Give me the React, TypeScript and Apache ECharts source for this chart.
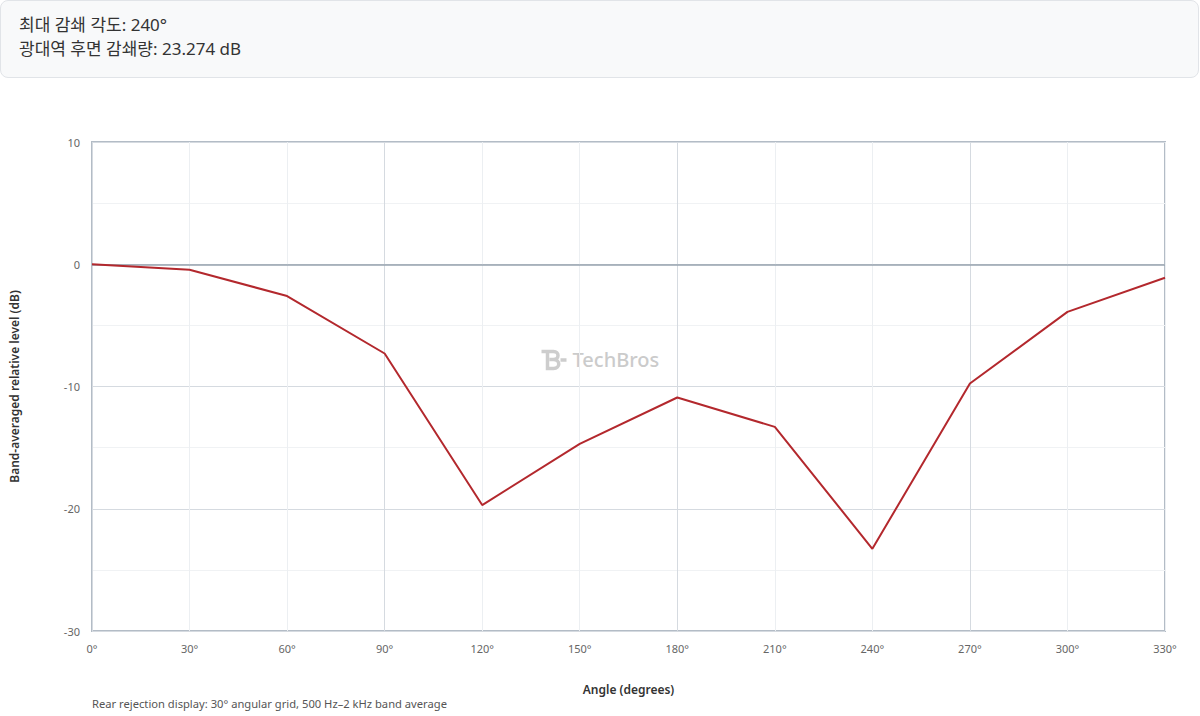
import React, { useEffect, useRef } from "react";
import * as echarts from "echarts";

const angles = [0, 30, 60, 90, 120, 150, 180, 210, 240, 270, 300, 330];
const levels = [0, -0.45, -2.6, -7.3, -19.7, -14.7, -10.9, -13.3, -23.274, -9.75, -3.9, -1.1];
const headerLines = ["최대 감쇄 각도: 240°", "광대역 후면 감쇄량: 23.274 dB"];
const footnote = "Rear rejection display: 30° angular grid, 500 Hz–2 kHz band average";
const watermark = "TechBros";

const FONT = "'Segoe UI', 'Noto Sans', 'Noto Sans CJK KR', sans-serif";

echarts.graphic.registerShape(
  "tbLogo",
  echarts.graphic.extendPath(
    "M0 2 H12 C18 2 18 10 12 10 C19 10 19 19 12 19 H6 V2 M8 10 H12 M19 10.5 H25",
    {}
  )
);

export default function App() {
  const ref = useRef<HTMLDivElement>(null);

  useEffect(() => {
    document.body.style.margin = "0";
    if (!ref.current) return;
    const chart = echarts.init(ref.current, undefined, { renderer: "svg" });
    const major = "#d5dae0";
    const minor = "#eceff2";
    chart.setOption({
      animation: false,
      textStyle: { fontFamily: FONT },
      grid: {
        left: 92,
        right: 35,
        top: 64,
        bottom: 85,
        show: true,
        borderColor: "#b3bcc6",
        borderWidth: 2,
        backgroundColor: "transparent",
      },
      xAxis: {
        type: "value",
        min: 0,
        max: 330,
        interval: 30,
        name: "Angle (degrees)",
        nameLocation: "middle",
        nameGap: 52,
        nameTextStyle: { color: "#333", fontSize: 12, fontWeight: 600, fontFamily: FONT },
        axisLine: { show: false },
        axisTick: { show: false },
        axisLabel: { color: "#666", fontSize: 11, margin: 12, formatter: (v: number) => `${v}°` },
        splitLine: { show: true, lineStyle: { color: [major, minor, minor], width: 1 } },
      },
      yAxis: {
        type: "value",
        min: -30,
        max: 10,
        interval: 10,
        name: "Band-averaged relative level (dB)",
        nameLocation: "middle",
        nameGap: 72,
        nameTextStyle: { color: "#333", fontSize: 12, fontWeight: 600, fontFamily: FONT },
        axisLine: { show: false },
        axisTick: { show: false },
        axisLabel: { color: "#666", fontSize: 11, margin: 12 },
        splitLine: { show: true, lineStyle: { color: major, width: 1 } },
        minorTick: { show: false, splitNumber: 2 },
        minorSplitLine: { show: true, lineStyle: { color: "#f0f2f4", width: 1 } },
      },
      graphic: [
        {
          type: "group",
          left: 539,
          top: 271,
          children: [
            {
              type: "tbLogo",
              x: 0,
              y: 0,
              scaleX: 1,
              scaleY: 1,
              style: { fill: "none", stroke: "#cdcdcd", lineWidth: 3.5 },
            },
            {
              type: "text",
              x: 31,
              y: 0,
              style: {
                text: watermark,
                fill: "#cbcbcb",
                font: `500 20px ${FONT}`,
              },
            },
          ],
        },
        {
          type: "text",
          left: 92,
          top: 620,
          style: { text: footnote, fill: "#555", font: `11.2px ${FONT}` },
        },
      ],
      series: [
        {
          type: "line",
          data: angles.map((a, i) => [a, levels[i]]),
          showSymbol: false,
          symbol: "none",
          lineStyle: { color: "#b3282d", width: 2 },
          z: 5,
          markLine: {
            silent: true,
            symbol: "none",
            label: { show: false },
            lineStyle: { color: "#97a3af", width: 1.5, type: "solid" },
            data: [{ yAxis: 0 }],
            z: 3,
          },
        },
      ],
    });
    return () => chart.dispose();
  }, []);

  return (
    <div style={{ position: "absolute", left: 0, top: 0, width: 1200, height: 716, background: "#fff" }}>
      <div
        style={{
          boxSizing: "border-box",
          width: 1199,
          height: 78,
          padding: "12px 18px",
          background: "#f8f9fa",
          border: "1px solid #e1e4e8",
          borderRadius: 8,
          fontFamily: FONT,
          fontSize: 17,
          lineHeight: "24px",
          color: "#333",
        }}
      >
        {headerLines.map((t) => (
          <div key={t}>{t}</div>
        ))}
      </div>
      <div ref={ref} style={{ width: 1200, height: 638 }} />
    </div>
  );
}
